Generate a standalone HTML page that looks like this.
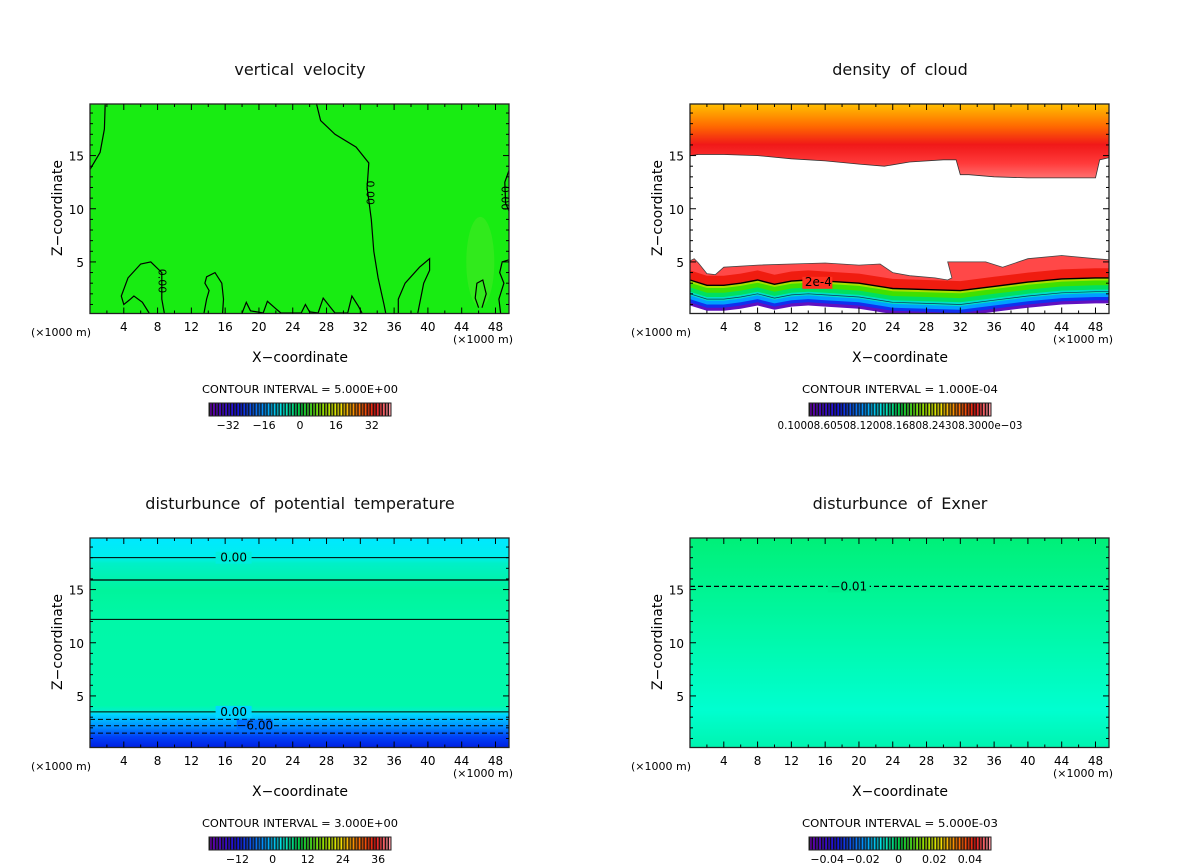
<!DOCTYPE html>
<html><head><meta charset="utf-8"><style>
html,body{margin:0;padding:0;background:#fff;}
svg{display:block;font-family:"DejaVu Sans","Liberation Sans",sans-serif;}
</style></head><body>
<svg id="fig" width="1200" height="868" viewBox="0 0 1200 868" xmlns="http://www.w3.org/2000/svg">
<defs>
<linearGradient id="gTopCloud" x1="0" y1="0" x2="0" y2="1">
<stop offset="0" stop-color="#ffc000"/><stop offset="0.3" stop-color="#ff6a00"/><stop offset="0.55" stop-color="#f01818"/><stop offset="0.8" stop-color="#ff3a3a"/><stop offset="1" stop-color="#ff7070"/></linearGradient>
<linearGradient id="gBL" x1="0" y1="0" x2="0" y2="1">
<stop offset="0" stop-color="#00e8ff"/><stop offset="0.09" stop-color="#00eeee"/><stop offset="0.12" stop-color="#00f0c8"/><stop offset="0.25" stop-color="#00f49c"/><stop offset="0.4" stop-color="#00f8a8"/><stop offset="0.8" stop-color="#00f8ac"/><stop offset="0.83" stop-color="#00f0d0"/><stop offset="0.84" stop-color="#00d8ff"/><stop offset="0.9" stop-color="#0090ff"/><stop offset="0.95" stop-color="#0040f8"/><stop offset="1" stop-color="#0020e0"/></linearGradient>
<linearGradient id="gBR" x1="0" y1="0" x2="0" y2="1">
<stop offset="0" stop-color="#00f078"/><stop offset="0.45" stop-color="#00f8a8"/><stop offset="0.82" stop-color="#00ffd0"/><stop offset="1" stop-color="#00f4b0"/></linearGradient>
</defs>
</svg>
<script>
// ---------- data ----------
const xTicks = [4,8,12,16,20,24,28,32,36,40,44,48];
const yTicks = [5,10,15];
const titles = ["vertical velocity","density of cloud","disturbunce of potential temperature","disturbunce of Exner"];
const intervals = ["CONTOUR INTERVAL = 5.000E+00","CONTOUR INTERVAL = 1.000E-04","CONTOUR INTERVAL = 3.000E+00","CONTOUR INTERVAL = 5.000E-03"];
const cbLabelsTL = [-32,-16,0,16,32];
const cbLabelsBL = [-12,0,12,24,36];
const cbLabelsBR = ["−0.04","−0.02","0","0.02","0.04"];
const cbValsBR = [-0.04,-0.02,0,0.02,0.04];
// vertical velocity zero contours [x km, z km]
const wContourA = [[1.8,19.9],[1.7,17.5],[1.2,15.3],[0,13.7]];
const wContourB = [[26.8,19.9],[27.3,18.3],[29,17],[31.5,15.8],[33,14.3],[32.8,12],[33.3,9],[33.6,6],[34.1,3.5],[34.8,1],[35,0.2]];
const wContourC = [[49.6,13.6],[49.1,12.5],[49.2,10.5],[49.6,9.8]];
const wBlob1 = [[8.8,0.2],[8.5,1.5],[8.5,4],[7.2,5],[6,4.8],[4.5,3.5],[3.7,1.8],[4,1],[4.8,1.5],[5.2,1.8],[6.2,1.2],[7,0.2]];
const wBlob2 = [[15.7,0.2],[15.8,1.5],[15.6,3],[14.8,4],[13.8,3.6],[13.6,3],[14.1,2.3],[13.8,1.5],[13.5,0.2]];
const wBlob3 = [[38.8,0.2],[39.5,3],[40.2,4.2],[40.2,5.3],[39,4.5],[37.3,3],[36.5,1.5],[36.5,0.2]];
const wBlob4 = [[46.4,0.7],[46.9,2],[46.5,3.3],[45.8,3],[45.6,1.6],[46,0.7]];
const wBlob5 = [[49.6,5.2],[48.8,5],[48.5,4],[49,3],[48.4,1.5],[48.6,0.2]];
const wSmall = [[18,0.2],[18.5,1.2],[19,0.4],[20.5,0.2],[21,1.3],[22,0.6],[22.6,0.2],[25,0.2],[25.5,1],[26,0.3],[27,0.2],[27.6,1.6],[28.4,0.8],[29,0.2],[30.5,0.2],[31,1.8],[31.8,0.8],[32.2,0.2]];
// cloud density boundaries
const cloudX = [0,1,2,3,4,8,12,16,20,23,26,30,31.5,32,33,36,40,44,48,48.5,49.6];
const upperBase = [15.0,15.1,15.1,15.1,15.1,15.0,14.7,14.5,14.2,14.0,14.4,14.6,14.6,13.2,13.2,13.0,12.9,12.9,12.9,14.6,14.8];
const lowX = [0,0.5,1,2,3,4,8,12,16,20,22.5,24,26,29,30.5,31,30.5,35,37,40,44,48,49.6];
const lowTop = [5.1,5.3,4.9,3.9,3.8,4.5,4.7,4.8,4.9,4.7,4.8,4.0,3.7,3.5,3.3,3.5,5.0,5.0,4.5,5.3,5.6,5.3,5.2];
const lineX = [0,2,4,6,8,10,12,14,16,20,24,28,32,36,40,44,48,49.6];
const line2e4 = [3.3,2.8,2.8,3.0,3.3,2.9,3.2,3.3,3.2,3.0,2.5,2.4,2.3,2.7,3.1,3.4,3.5,3.5];
// potential temperature contours
const thetaLevels = [18.0,15.9,12.2,3.5];
const thetaDashed = [2.8,2.2,1.5];
const exnerDashed = [15.3];

// ---------- helpers ----------
const svg = document.getElementById('fig');
const NS = 'http://www.w3.org/2000/svg';
function mk(tag, attrs, parent){const e=document.createElementNS(NS,tag);for(const k in attrs)e.setAttribute(k,attrs[k]);(parent||svg).appendChild(e);return e;}
const PW=419, PH=209.5, XMAX=49.6, ZMIN=0.15, ZMAX=19.85;
function sx(ox,x){return ox+90+x/XMAX*PW;}
function sy(oy,z){return oy+104+(ZMAX-z)/(ZMAX-ZMIN)*PH;}
function pts(ox,oy,arr){return arr.map(p=>sx(ox,p[0]).toFixed(1)+','+sy(oy,p[1]).toFixed(1)).join(' ');}
function zip(xs,zs){return xs.map((x,i)=>[x,zs[i]]);}
function rainbow(t){
  const st=[[0,[100,0,170]],[0.15,[20,20,220]],[0.3,[0,150,255]],[0.4,[0,230,220]],[0.5,[0,200,60]],[0.62,[140,220,0]],[0.72,[240,230,0]],[0.82,[255,120,0]],[0.92,[230,20,20]],[1,[255,150,160]]];
  for(let i=1;i<st.length;i++){if(t<=st[i][0]){const a=st[i-1],b=st[i],f=(t-a[0])/(b[0]-a[0]);return 'rgb('+a[1].map((v,j)=>Math.round(v+(b[1][j]-v)*f)).join(',')+')';}}
  return 'rgb(255,150,160)';
}

const offs=[[0,0],[600,0],[0,434],[600,434]];
offs.forEach(([ox,oy],pi)=>{
  const g=mk('g',{});
  
  
  const t=mk('text',{x:ox+300,y:oy+75,'text-anchor':'middle','font-size':'16','word-spacing':'4','fill':'#111'},g);
  t.textContent=titles[pi];
  
  
  const fg=mk('g',{},g);
  
  
  const x0=sx(ox,0),x1=sx(ox,XMAX),y0=sy(oy,ZMAX),y1=sy(oy,ZMIN);
  if(pi===0){
    mk('rect',{x:x0,y:y0,width:PW,height:PH,fill:'#18ec12'},fg);
    mk('ellipse',{cx:sx(ox,46.2),cy:sy(oy,5),rx:14,ry:45,fill:'#60e830',opacity:0.35},fg);
    [wContourA,wContourB,wContourC,wBlob1,wBlob2,wBlob3,wBlob4,wBlob5,wSmall].forEach(c=>{
      const l=mk('polyline',{points:pts(ox,oy,c),fill:'none',stroke:'#000','stroke-width':1.2},fg);
      
      
    });
    [[8.6,3.2],[33.2,11.5],[49.2,11]].forEach(p=>{
      const tx=mk('text',{x:sx(ox,p[0]),y:sy(oy,p[1]),'font-size':'11','text-anchor':'middle',transform:'rotate(90 '+sx(ox,p[0])+' '+sy(oy,p[1])+')',dy:'4','fill':'#000'},fg);
      tx.textContent='0.00';
    });
  } else if(pi===1){
    mk('rect',{x:x0,y:y0,width:PW,height:PH,fill:'#fff'},fg);
    const up=[[0,ZMAX]].concat(zip(cloudX,upperBase)).concat([[XMAX,ZMAX]]);
    mk('polygon',{points:pts(ox,oy,up),fill:'url(#gTopCloud)',stroke:'#333','stroke-width':0.8},fg);
    const top=zip(lowX,lowTop);
    const line=zip(lineX,line2e4);
    const lowPoly=top.concat(line.slice().reverse());
    mk('polygon',{points:pts(ox,oy,lowPoly),fill:'#ff4848',stroke:'#444','stroke-width':0.8},fg);
    const redBand=line.map(p=>[p[0],p[1]+0.9]).concat(line.slice().reverse());
    mk('polygon',{points:pts(ox,oy,redBand),fill:'#f01c10'},fg);
    const bands=[[0,'#a8e000'],[0.25,'#40e000'],[0.7,'#00e060'],[1.1,'#00e0c8'],[1.45,'#00a0ff'],[1.8,'#1030f0'],[2.1,'#6010c0'],[2.4,'#ffffff']];
    bands.forEach(([d,c])=>{
      const poly=line.map(p=>[p[0],p[1]-d]).concat([[XMAX,ZMIN],[0,ZMIN]]);
      mk('polygon',{points:pts(ox,oy,poly),fill:c},fg);
    });
    const l=mk('polyline',{points:pts(ox,oy,line),fill:'none',stroke:'#000','stroke-width':1.4},fg);
    
    
    mk('polyline',{points:pts(ox,oy,line.map(p=>[p[0],p[1]-1.3])),fill:'none',stroke:'#135','stroke-width':0.7},fg);
    mk('rect',{x:sx(ox,13.3),y:sy(oy,3.6),width:30,height:12,fill:'#ff3020'},fg);
    const tx=mk('text',{x:sx(ox,15.2),y:sy(oy,2.75),'font-size':'12','text-anchor':'middle','fill':'#000'},fg);
    tx.textContent='2e-4';
  } else if(pi===2){
    mk('rect',{x:x0,y:y0,width:PW,height:PH,fill:'url(#gBL)'},fg);
    thetaLevels.forEach((z,i)=>{
      const l=mk('line',{x1:x0,x2:x1,y1:sy(oy,z),y2:sy(oy,z),stroke:'#000','stroke-width':i===1?1.2:1},fg);
      
      
    });
    thetaDashed.forEach(z=>{
      const l=mk('line',{x1:x0,x2:x1,y1:sy(oy,z),y2:sy(oy,z),stroke:'#000','stroke-width':1,'stroke-dasharray':'5,3'},fg);
      
      
    });
    [[18.0,'0.00',17],[3.5,'0.00',17],[2.2,'−6.00',19.5]].forEach(([z,s,x])=>{
      mk('rect',{x:sx(ox,x)-18,y:sy(oy,z)-6,width:36,height:12,fill:z>10?'#00eedd':(z>3?'#00d8ff':'#0070ff')},fg);
      const tx=mk('text',{x:sx(ox,x),y:sy(oy,z)+4,'font-size':'12','text-anchor':'middle','fill':'#000'},fg);
      tx.textContent=s;
    });
  } else {
    mk('rect',{x:x0,y:y0,width:PW,height:PH,fill:'url(#gBR)'},fg);
    exnerDashed.forEach(z=>{
      const l=mk('line',{x1:x0,x2:x1,y1:sy(oy,z),y2:sy(oy,z),stroke:'#000','stroke-width':1.2,'stroke-dasharray':'5,3'},fg);
      
      
      mk('rect',{x:sx(ox,16.3),y:sy(oy,z)-6,width:42,height:12,fill:'#00f090'},fg);
      const tx=mk('text',{x:sx(ox,18.8),y:sy(oy,z)+4,'font-size':'12','text-anchor':'middle','fill':'#000'},fg);
      tx.textContent='−0.01';
    });
  }
  const fr=mk('rect',{x:x0,y:y0,width:PW,height:PH,fill:'none',stroke:'#222','stroke-width':1.3},g);
  
  
  for(let x=2;x<XMAX;x+=2){
    const major=(x%4===0), L=major?6:3;
    mk('line',{x1:sx(ox,x),x2:sx(ox,x),y1:y1,y2:y1-L,stroke:'#000','stroke-width':1},g);
    mk('line',{x1:sx(ox,x),x2:sx(ox,x),y1:y0,y2:y0+L,stroke:'#000','stroke-width':1},g);
  }
  for(let z=1;z<ZMAX;z+=1){
    const major=(z%5===0), L=major?6:3;
    mk('line',{x1:x0,x2:x0+L,y1:sy(oy,z),y2:sy(oy,z),stroke:'#000','stroke-width':1},g);
    mk('line',{x1:x1,x2:x1-L,y1:sy(oy,z),y2:sy(oy,z),stroke:'#000','stroke-width':1},g);
  }
  xTicks.forEach(v=>{
    const tx=mk('text',{x:sx(ox,v),y:oy+331,'font-size':'12','text-anchor':'middle','fill':'#000'},g);
    tx.textContent=v;
    
    
  });
  yTicks.forEach(v=>{
    const tx=mk('text',{x:ox+84,y:sy(oy,v)+5,'font-size':'12','text-anchor':'end','fill':'#000'},g);
    tx.textContent=v;
    
    
  });
  let u=mk('text',{x:ox+31,y:oy+336,'font-size':'11','fill':'#000'},g);u.textContent='(×1000 m)';
  
  
  u=mk('text',{x:ox+453,y:oy+343,'font-size':'11','fill':'#000'},g);u.textContent='(×1000 m)';
  
  
  let xt=mk('text',{x:ox+300,y:oy+362,'font-size':'14','text-anchor':'middle','fill':'#000'},g);xt.textContent='X−coordinate';
  
  
  let yt=mk('text',{x:ox+62,y:oy+208,'font-size':'14','text-anchor':'middle','fill':'#000',transform:'rotate(-90 '+(ox+62)+' '+(oy+208)+')'},g);yt.textContent='Z−coordinate';
  
  
  let ci=mk('text',{x:ox+300,y:oy+393,'font-size':'11','text-anchor':'middle','fill':'#000',textLength:'196',lengthAdjust:'spacingAndGlyphs'},g);ci.textContent=intervals[pi];
  
  
  const cb=mk('g',{},g);
  
  
  const cbx=ox+209, cby=oy+403, cbw=182, cbh=13, n=60;
  mk('rect',{x:cbx,y:cby,width:cbw,height:cbh,fill:'#111'},cb);
  for(let i=0;i<n;i++){
    const c=rainbow(i/(n-1));
    mk('rect',{x:cbx+i*cbw/n+1,y:cby,width:cbw/n-1.2,height:cbh,fill:c,opacity:i%2?1:0.75},cb);
  }
  mk('rect',{x:cbx,y:cby,width:cbw,height:cbh,fill:'none',stroke:'#222','stroke-width':1},cb);
  function cbLab(vals,labs,vmin,vmax){
    vals.forEach((v,i)=>{
      const tx=mk('text',{x:cbx+(v-vmin)/(vmax-vmin)*cbw,y:oy+429,'font-size':'11','text-anchor':'middle','fill':'#000'},cb);
      tx.textContent=labs[i];
      
      
    });
  }
  if(pi===0)cbLab(cbLabelsTL,cbLabelsTL.map(v=>v<0?'−'+(-v):''+v),-40.5,40.5);
  if(pi===2)cbLab(cbLabelsBL,cbLabelsBL.map(v=>v<0?'−'+(-v):''+v),-21.7,40.4);
  if(pi===3)cbLab(cbValsBR,cbLabelsBR,-0.0502,0.0518);
  if(pi===1){
    const tx=mk('text',{x:ox+300,y:oy+429,'font-size':'11','text-anchor':'middle','fill':'#000',textLength:'245',lengthAdjust:'spacingAndGlyphs'},cb);
    tx.textContent='0.10008.60508.12008.16808.24308.3000e−03';
    
    
  }
});
</script>
</body></html>
